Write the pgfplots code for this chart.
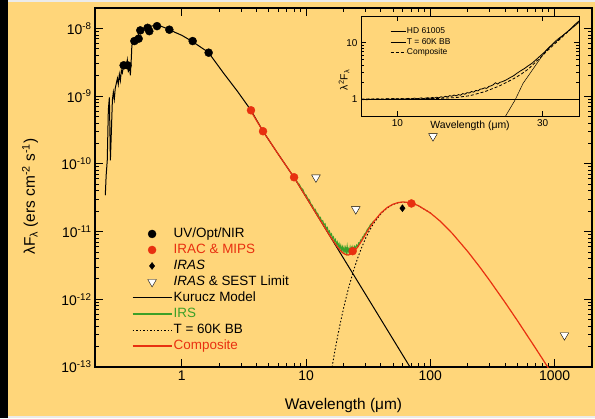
\documentclass[border=0pt]{standalone}
\usepackage{pgfplots}
\pgfplotsset{compat=1.18}
\usepackage{fontspec}
\setmainfont{Liberation Sans}
\definecolor{bg}{RGB}{255,214,122}
\definecolor{myred}{RGB}{232,48,16}
\definecolor{mygreen}{RGB}{60,160,40}
\begin{document}
\begin{tikzpicture}[x=1bp,y=1bp]
\fill[bg] (0,0) rectangle (595,418);
\fill[black] (0,0) rectangle (8,418);
\fill[black!8] (8,416) rectangle (595,418);
\fill[black!8] (8,0) rectangle (595,2);
\useasboundingbox (0,0) rectangle (595,418);
\begin{axis}[
  at={(95bp,51bp)}, anchor=south west,
  scale only axis, width=497bp, height=359bp,
  xmode=log, ymode=log,
  xmin=0.2, xmax=2000, ymin=1e-13, ymax=2e-8,
  axis line style={line width=1.1bp},
  every tick/.style={line width=0.9bp, black},
  major tick length=8bp, minor tick length=4.5bp,
  tick align=inside,
  xtick={1,10,100,1000}, xticklabels={1,10,100,1000},
  ytick={1e-13,1e-12,1e-11,1e-10,1e-9,1e-8},
  yticklabels={10\textsuperscript{-13},10\textsuperscript{-12},10\textsuperscript{-11},10\textsuperscript{-10},10\textsuperscript{-9},10\textsuperscript{-8}},
  ticklabel style={font=\fontsize{14}{16}\selectfont},
  xlabel={Wavelength (μm)},
  ylabel={λF\textsubscript{λ} (ers cm\textsuperscript{-2} s\textsuperscript{-1})},
  label style={font=\fontsize{15.5}{18}\selectfont},
  xlabel style={at={(axis description cs:0.5,0)}, anchor=center, yshift=-38bp},
  ylabel style={at={([xshift=-65bp]axis description cs:0,0.475)}, anchor=center},
  legend style={draw=none, fill=none, at={(0.068,0.399)}, anchor=north west,
    font=\fontsize{13.5}{15}\selectfont,
    nodes={inner sep=1.5bp, text height=10bp, text depth=3bp},
    row sep=0bp},
  legend cell align=left,
  legend image code/.code={\draw[mark repeat=2,mark phase=2,#1] plot coordinates {(0bp,0bp) (19.5bp,0bp) (39bp,0bp)};},
]
\addlegendimage{only marks, mark=*, mark size=4bp, black}
\addlegendentry{UV/Opt/NIR}
\addlegendimage{only marks, mark=*, mark size=4bp, myred, mark options={fill=myred}}
\addlegendentry{\textcolor{myred}{IRAC \& MIPS}}
\addlegendimage{only marks, mark=diamond*, mark size=3.5bp, black}
\addlegendentry{\textit{IRAS}}
\addlegendimage{only marks, mark=triangle*, mark size=5bp, black, mark options={rotate=180, fill=white, draw=black}}
\addlegendentry{\textit{IRAS} \& SEST Limit}
\addlegendimage{black, line width=1bp}
\addlegendentry{Kurucz Model}
\addlegendimage{mygreen, line width=1.2bp}
\addlegendentry{\textcolor{mygreen}{IRS}}
\addlegendimage{black, line width=0.9bp, dash pattern=on 1.5bp off 2bp}
\addlegendentry{T = 60K BB}
\addlegendimage{myred, line width=1.2bp}
\addlegendentry{\textcolor{myred}{Composite}}

% Kurucz model
\addplot[black, line width=1bp, forget plot] coordinates {
(0.242,3.44e-11)(0.246,6.8e-11)(0.251,1.13e-10)(0.256,6.2e-10)(0.261,9.6e-10)(0.266,1.13e-10)(0.271,3.1e-10)(0.276,8.7e-10)(0.281,1.14e-9)(0.286,9.0e-10)(0.291,1.3e-9)(0.297,1.55e-9)(0.303,1.83e-9)(0.308,1.5e-9)(0.314,2.1e-9)(0.320,1.7e-9)(0.326,2.4e-9)(0.332,2.2e-9)(0.338,2.75e-9)(0.345,2.6e-9)(0.351,3.05e-9)(0.358,2.8e-9)(0.364,3.4e-9)(0.371,2.25e-9)(0.378,3.15e-9)(0.385,2.03e-9)(0.392,3.6e-9)(0.396,5.6e-9)(0.406,6.2e-9)(0.422,7.1e-9)(0.440,7.6e-9)(0.455,8.7e-9)(0.472,9.3e-9)(0.498,1.0e-8)(0.548,1.07e-8)(0.600,1.1e-8)(0.659,1.1e-8)(0.723,1.03e-8)(0.793,9.66e-9)(0.886,8.7e-9)(1.0,7.9e-9)(1.215,6.4e-9)(1.635,4.43e-9)(2.16,2.2e-9)(2.8,1.18e-9)(3.6,6.18e-10)(4.5,3.03e-10)(5.8,1.5e-10)(8,6.3e-11)(10,3.23e-11)(15,9.56e-12)(20,4.03e-12)(30,1.195e-12)(50,2.58e-13)(70,9.4e-14)};
% 60K blackbody
\addplot[black, line width=0.9bp, dash pattern=on 1.5bp off 2bp, forget plot] coordinates {
(16,8.88e-14)(17,1.685e-13)(18,2.94e-13)(19,4.76e-13)(20,7.30e-13)(21,1.061e-12)(22,1.48e-12)(24,2.60e-12)(26,4.06e-12)(28,5.83e-12)(30,7.84e-12)(32,9.98e-12)(35,1.327e-11)(40,1.833e-11)(45,2.235e-11)(50,2.506e-11)(55,2.66e-11)(60,2.717e-11)(65,2.70e-11)(70,2.632e-11)(80,2.41e-11)(100,1.88e-11)};
% IRS
\addplot[mygreen, line width=1.1bp, forget plot] coordinates {
(7.6,7.3e-11)(7.9,6.6e-11)(8.2,6.1e-11)(8.5,5.3e-11)(8.8,5.0e-11)(9.1,4.4e-11)(9.4,4.2e-11)(9.7,3.6e-11)(10,3.45e-11)(10.3,3.05e-11)(10.6,2.95e-11)(10.9,2.55e-11)(11.2,2.45e-11)(11.5,2.15e-11)(11.8,2.15e-11)(12.1,1.9e-11)(12.4,1.85e-11)(12.7,1.62e-11)(13,1.63e-11)(13.3,1.42e-11)(13.6,1.45e-11)(13.9,1.25e-11)(14.2,1.3e-11)(14.5,1.1e-11)(14.8,1.15e-11)(15.1,9.8e-12)(15.4,1.02e-11)(15.7,8.7e-12)(16,9.2e-12)(16.3,7.9e-12)(16.6,8.3e-12)(16.9,7.1e-12)(17.2,7.6e-12)(17.5,6.5e-12)(17.8,7.0e-12)(18.1,6.0e-12)(18.4,6.6e-12)(18.7,5.6e-12)(19,6.2e-12)(19.3,5.3e-12)(19.6,5.9e-12)(19.9,5.1e-12)(20.2,5.8e-12)(20.5,5.0e-12)(20.8,5.7e-12)(21.1,4.9e-12)(21.4,6.0e-12)(21.7,4.9e-12)(22,5.5e-12)(22.3,5.0e-12)(22.6,5.8e-12)(22.9,5.0e-12)(23.2,5.7e-12)(23.5,5.2e-12)(23.8,5.9e-12)(24.2,5.3e-12)(24.6,6.0e-12)(25,5.6e-12)(25.5,6.3e-12)(26,6.0e-12)(26.5,6.8e-12)(27,6.7e-12)(27.5,7.5e-12)(28,7.4e-12)(28.5,8.3e-12)(29,8.3e-12)(29.5,9.2e-12)(30,9.2e-12)(31,1.06e-11)(32,1.14e-11)(33,1.27e-11)(34,1.33e-11)(35,1.44e-11)};
% Composite
\addplot[myred, line width=1.2bp, forget plot] coordinates {
(3.5,6.5e-10)(4.5,3.03e-10)(5.8,1.5e-10)(8,6.3e-11)(10,3.23e-11)(12,1.867e-11)(15,9.59e-12)(16,7.96e-12)(18,5.82e-12)(19,5.18e-12)(20,4.76e-12)(21,4.55e-12)(22,4.51e-12)(24,4.93e-12)(26,5.9e-12)(28,7.3e-12)(30,9.04e-12)(32,1.099e-11)(35,1.402e-11)(40,1.883e-11)(45,2.27e-11)(50,2.532e-11)(55,2.68e-11)(60,2.732e-11)(65,2.71e-11)(70,2.641e-11)(80,2.417e-11)(100,1.883e-11)(120,1.423e-11)(150,9.41e-12)(200,5.07e-12)(250,2.99e-12)(300,1.896e-12)(400,8.94e-13)(500,4.89e-13)(700,1.916e-13)(900,9.38e-14)};
% UV/Opt/NIR
\addplot[only marks, mark=*, mark size=4bp, black, forget plot] coordinates {
(0.340,2.85e-9)(0.366,2.85e-9)(0.4146,6.5e-9)(0.449,7.05e-9)(0.463,9.35e-9)(0.530,1.02e-8)(0.547,9.1e-9)(0.631,1.08e-8)(0.793,9.57e-9)(1.222,6.5e-9)(1.643,4.38e-9)};
% IRAC & MIPS
\addplot[only marks, mark=*, mark size=4bp, myred, mark options={fill=myred}, forget plot] coordinates {
(3.6,6.18e-10)(4.5,3.03e-10)(8.0,6.34e-11)(23.7,5.14e-12)(70.4,2.6e-11)};
% IRAS
\addplot[only marks, mark=diamond*, mark size=3.5bp, black, forget plot] coordinates {(59.6,2.21e-11)};
% limits
\addplot[only marks, mark=triangle*, mark size=5bp, black, mark options={rotate=180, fill=white, draw=black}, forget plot] coordinates {
(12,6.3e-11)(25.1,2.14e-11)(105,2.56e-10)(1200,2.95e-13)};
\end{axis}

\begin{axis}[
  at={(361bp,302bp)}, anchor=south west,
  scale only axis, width=218bp, height=100bp,
  xmin=5, xmax=35, ymode=log, ymin=0.5, ymax=30,
  axis background/.style={fill=bg},
  axis line style={line width=0.9bp},
  every tick/.style={line width=0.7bp, black},
  major tick length=5bp, minor tick length=3bp,
  tick align=inside,
  xtick={10,30}, xticklabels={10,30},
  ytick={1,10}, yticklabels={1,10},
  ticklabel style={font=\fontsize{10}{12}\selectfont},
  xlabel={Wavelength (μm)},
  ylabel={λ\textsuperscript{2}F\textsubscript{λ}},
  label style={font=\fontsize{10.5}{12}\selectfont},
  xlabel style={at={(axis description cs:0.5,0)}, anchor=center, yshift=-10bp},
  ylabel style={at={([xshift=-17bp]axis description cs:0,0.36)}, anchor=center},
  legend style={draw=none, fill=none, at={(0.119,0.92)}, anchor=north west,
    font=\fontsize{8.5}{10}\selectfont,
    nodes={inner sep=1bp, text height=6.5bp, text depth=2bp},
    row sep=0bp},
  legend cell align=left,
  legend image code/.code={\draw[#1] (0bp,0bp) -- (15bp,0bp);},
]
\addlegendimage{black, line width=0.8bp}
\addlegendentry{HD 61005}
\addlegendimage{black, line width=0.5bp}
\addlegendentry{T = 60K BB}
\addlegendimage{black, line width=0.8bp, dash pattern=on 3bp off 2bp}
\addlegendentry{Composite}
\addplot[black, line width=1.1bp, forget plot] coordinates {(5,1)(35,1)};
\addplot[black, line width=0.8bp, forget plot] coordinates {
(5.2,0.97)(5.5,0.99)(5.8,0.97)(6.1,1.0)(6.4,0.98)(6.7,1.0)(7.0,0.99)(7.3,1.01)(7.6,0.99)(7.9,1.0)(8.2,0.98)(8.5,1.01)(8.8,1.0)(9.1,0.99)(9.4,1.02)(9.7,1.0)(10.0,1.01)(10.3,0.99)(10.6,1.02)(10.9,1.0)(11.2,1.01)(11.5,1.03)(11.8,1.0)(12.1,1.02)(12.4,1.04)(12.7,1.01)(13.0,1.03)(13.3,1.05)(13.6,1.02)(13.9,1.04)(14.2,1.06)(14.5,1.03)(14.8,1.07)(15.1,1.04)(15.4,1.08)(15.7,1.05)(16.0,1.1)(16.3,1.07)(16.6,1.12)(16.9,1.09)(17.2,1.15)(17.5,1.12)(17.8,1.18)(18.1,1.14)(18.4,1.2)(18.7,1.17)(19.0,1.25)(19.3,1.22)(19.6,1.3)(19.9,1.28)(20.2,1.36)(20.5,1.33)(20.8,1.42)(21.1,1.4)(21.4,1.5)(21.7,1.52)(22.0,1.58)(22.3,1.55)(22.6,1.68)(22.9,1.72)(23.2,1.8)(23.5,1.95)(23.8,1.85)(24.1,1.98)(24.5,2.05)(25.0,2.2)(25.5,2.4)(26.0,2.6)(26.5,2.9)(27.0,3.2)(27.5,3.5)(28.0,3.9)(28.5,4.3)(29.0,4.9)(29.5,5.6)(30.0,6.4)(30.5,7.3)(31.0,8.4)(31.5,9.7)(32.0,11.0)(32.5,12.5)(33.0,14.3)(33.5,16.2)(34.0,18.5)(34.5,21.5)(35,24.5)};
\addplot[black, line width=0.8bp, dash pattern=on 3bp off 2bp, forget plot] coordinates {
(5,1.0)(15,1.02)(18,1.06)(20,1.15)(22,1.35)(24,1.7)(26,2.3)(27,2.75)(28,3.4)(29,4.5)(30,6.0)(31,8.0)(32,10.5)(33,13.8)(34,18.2)(35,24)};
\addplot[black, line width=0.5bp, forget plot] coordinates {
(24.9,0.5)(26.2,0.96)(27.3,1.9)(28.9,3.77)(30.5,7.5)(32,11.5)(33.5,16)(35,23)};
\end{axis}
\end{tikzpicture}
\end{document}
